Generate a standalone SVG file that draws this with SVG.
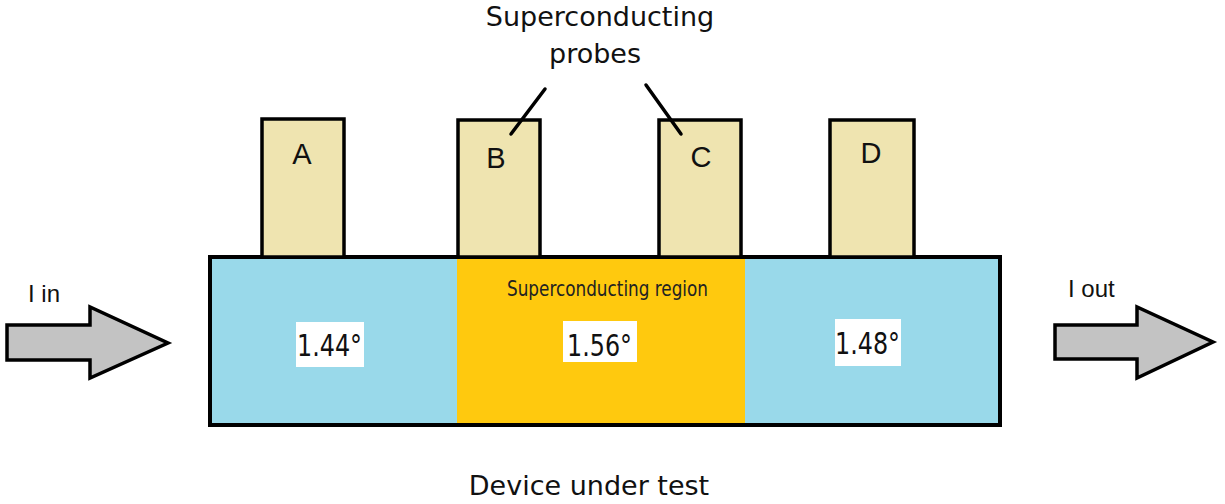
<svg xmlns="http://www.w3.org/2000/svg" width="1225" height="504" viewBox="0 0 1225 504">
<style>
.probe{fill:#EFE4B0;stroke:#000;stroke-width:3.5}
.plabel{font-family:"Liberation Sans",Arial,sans-serif;font-size:29px;fill:#111;text-anchor:middle}
.arrow{fill:#C3C3C3;stroke:#000;stroke-width:3.5;stroke-linejoin:miter}
.alabel{font-family:"Liberation Sans",Arial,sans-serif;font-size:24px;fill:#111}
.title{font-family:"DejaVu Sans",sans-serif;font-size:27px;fill:#111;text-anchor:middle}
.val{font-family:"DejaVu Sans",sans-serif;font-size:31px;fill:#111}
.valbox{fill:#fff}
.lead{stroke:#000;stroke-width:3.5;stroke-linecap:round;fill:none}
</style>
<rect width="1225" height="504" fill="#fff"/>
<g id="device">
<rect x="210" y="257" width="247" height="168" fill="#99D9EA"/>
<rect x="457" y="257" width="288" height="168" fill="#FFC90E"/>
<rect x="745" y="257" width="255" height="168" fill="#99D9EA"/>
<rect x="210" y="257" width="790" height="168" fill="none" stroke="#000" stroke-width="4"/>
<text x="507" y="296" font-family="DejaVu Sans, sans-serif" font-size="21" fill="#222" textLength="201" lengthAdjust="spacingAndGlyphs">Superconducting region</text>
</g>
<g id="val144">
<rect class="valbox" x="296" y="322" width="68" height="45"/>
<text class="val" x="297" y="356" textLength="65" lengthAdjust="spacingAndGlyphs">1.44°</text>
</g>
<g id="val156">
<rect class="valbox" x="563" y="321" width="74" height="41"/>
<text class="val" x="567" y="356" textLength="65" lengthAdjust="spacingAndGlyphs">1.56°</text>
</g>
<g id="val148">
<rect class="valbox" x="835" y="319" width="66" height="47"/>
<text class="val" x="835" y="354" textLength="65" lengthAdjust="spacingAndGlyphs">1.48°</text>
</g>
<g id="probeA">
<rect class="probe" x="262" y="119" width="82" height="138"/>
<text class="plabel" x="302" y="164">A</text>
</g>
<g id="probeB">
<rect class="probe" x="458" y="120" width="82" height="137"/>
<text class="plabel" x="496" y="168">B</text>
</g>
<g id="probeC">
<rect class="probe" x="659" y="120" width="82" height="137"/>
<text class="plabel" x="701" y="167">C</text>
</g>
<g id="probeD">
<rect class="probe" x="830" y="120" width="84" height="137"/>
<text class="plabel" x="871" y="163">D</text>
</g>
<g id="title">
<text class="title" x="600" y="26">Superconducting</text>
<text class="title" x="595" y="63">probes</text>
</g>
<g id="connectors">
<line class="lead" x1="545" y1="89" x2="511" y2="134"/>
<line class="lead" x1="646" y1="85" x2="681" y2="134"/>
</g>
<g id="arrowIn">
<polygon class="arrow" points="7,325 90,325 90,307 168,343 90,378 90,360 7,360"/>
<text class="alabel" x="28" y="302">I in</text>
</g>
<g id="arrowOut">
<polygon class="arrow" points="1055,325 1137,325 1137,307 1213,342 1137,378 1137,359 1055,359"/>
<text class="alabel" x="1068" y="297">I out</text>
</g>
<g id="caption">
<text class="title" x="589" y="495" font-size="26">Device under test</text>
</g>
</svg>
